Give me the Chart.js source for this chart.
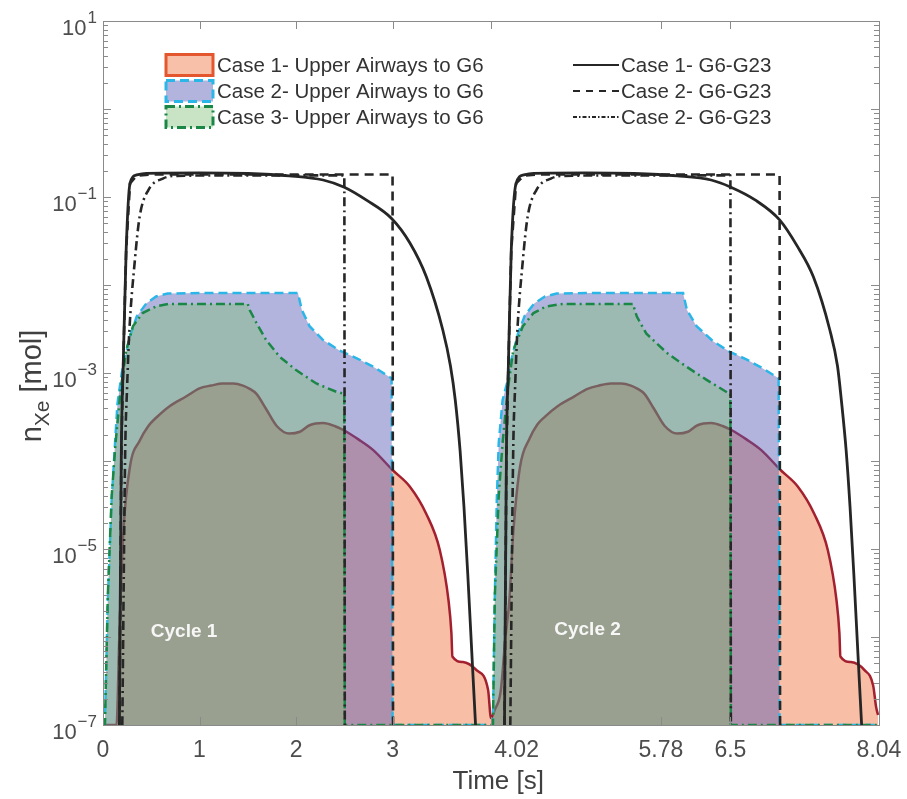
<!DOCTYPE html>
<html>
<head>
<meta charset="utf-8">
<script src="https://cdn.jsdelivr.net/npm/chart.js@4.4.1/dist/chart.umd.min.js"></script>
<style>
html,body{margin:0;padding:0;background:#ffffff;}
canvas{display:block;}
</style>
</head>
<body>
<canvas id="c" width="907" height="799"></canvas>
<script>
// ---------------- data ----------------
const xTickValues = [0, 1, 2, 3, 4.02, 5.78, 6.5, 8.04];
const xTickLabels = ['0', '1', '2', '3', '        4.02', '5.78', '6.5', '8.04'];
const yTickValues = [1e-7, 1e-5, 1e-3, 1e-1, 10];
const yTickBase = '10';
const yTickExponents = ['\u22127', '\u22125', '\u22123', '\u22121', '1'];

const seriesLabels = [
  'Case 1- Upper Airways to G6',
  'Case 2- Upper Airways to G6',
  'Case 3- Upper Airways to G6',
  'Case 1- G6-G23',
  'Case 2- G6-G23',
  'Case 2- G6-G23'
];

// Case 1 - Upper airways to G6 (filled, red)
const case1Time = [0, 0.14, 0.17, 0.21, 0.28, 0.38, 0.47, 0.55, 0.69, 0.86,
  1.0, 1.12, 1.24, 1.35, 1.45, 1.52, 1.59, 1.69, 1.80, 1.93,
  2.04, 2.14, 2.28, 2.40, 2.49, 2.65, 2.80, 3.0, 3.18, 3.35,
  3.49, 3.58, 3.61, 3.62, 3.73, 3.87, 3.99, 4.02,
  4.06, 4.12, 4.17, 4.21, 4.25, 4.32, 4.42, 4.50, 4.58, 4.71,
  4.88, 5.02, 5.14, 5.26, 5.37, 5.47, 5.54, 5.61, 5.71, 5.82,
  5.95, 6.06, 6.16, 6.30, 6.42, 6.51, 6.67, 6.82, 7.02, 7.20,
  7.37, 7.51, 7.60, 7.63, 7.64, 7.75, 7.89, 7.98, 8.01, 8.03];
const case1Value = [1e-7, 1e-7, 1.1e-6, 1.5e-5, 8.7e-5, 1.7e-4, 2.5e-4, 3.1e-4, 4.2e-4, 5.4e-4,
  6.7e-4, 7.2e-4, 7.6e-4, 7.6e-4, 7.2e-4, 6.6e-4, 5.8e-4, 3.9e-4, 2.5e-4, 2.05e-4,
  2.15e-4, 2.55e-4, 2.7e-4, 2.5e-4, 2.25e-4, 1.75e-4, 1.33e-4, 7.9e-5, 5.1e-5, 2.5e-5,
  9.7e-6, 2.6e-6, 1.1e-6, 6.0e-7, 5.2e-7, 4.2e-7, 2.5e-7, 1.2e-7,
  1.5e-7, 2.4e-7, 1.0e-6, 2.6e-6, 1.5e-5, 8.5e-5, 1.8e-4, 2.6e-4, 3.2e-4, 4.2e-4,
  5.4e-4, 6.6e-4, 7.2e-4, 7.6e-4, 7.6e-4, 7.2e-4, 6.6e-4, 5.8e-4, 3.9e-4, 2.5e-4,
  2.05e-4, 2.15e-4, 2.55e-4, 2.7e-4, 2.5e-4, 2.25e-4, 1.75e-4, 1.33e-4, 7.9e-5, 5.1e-5,
  2.5e-5, 9.7e-6, 2.6e-6, 1.1e-6, 6.0e-7, 5.2e-7, 4.2e-7, 2.8e-7, 1.6e-7, 1.3e-7];

// Case 2 - Upper airways to G6 (filled, blue)
const case2Time = [0, 0.02, 0.05, 0.09, 0.12, 0.15, 0.20, 0.28, 0.35, 0.45,
  0.55, 0.67, 1.0, 1.5, 2.02, 2.06, 2.14, 2.28, 2.45, 2.63,
  2.80, 2.99, 3.0, 4.04, 4.06, 4.08, 4.10, 4.14, 4.19, 4.23,
  4.30, 4.37, 4.47, 4.58, 4.70, 5.0, 5.5, 6.01, 6.05, 6.15,
  6.32, 6.49, 6.67, 6.84, 7.0, 7.01, 8.04];
const case2Value = [1e-7, 1e-7, 2.6e-6, 3.6e-5, 1.3e-4, 4.5e-4, 1.1e-3, 2.6e-3, 4.4e-3, 6.2e-3,
  7.4e-3, 8.0e-3, 8.1e-3, 8.1e-3, 8.1e-3, 5.2e-3, 3.4e-3, 2.37e-3, 1.8e-3, 1.47e-3,
  1.18e-3, 8.7e-4, 1e-7, 1e-7, 3e-6, 3.6e-5, 1.6e-4, 4.9e-4, 8e-4, 1.4e-3,
  2.8e-3, 4.5e-3, 6.2e-3, 7.4e-3, 8.0e-3, 8.1e-3, 8.1e-3, 8.1e-3, 5.2e-3, 3.4e-3,
  2.3e-3, 1.75e-3, 1.42e-3, 1.12e-3, 8.7e-4, 1e-7, 1e-7];

// Case 3 - Upper airways to G6 (filled, green)
const case3Time = [0, 0.02, 0.05, 0.09, 0.13, 0.18, 0.24, 0.31, 0.41, 0.55,
  0.68, 1.0, 1.50, 1.52, 1.59, 1.69, 1.83, 2.0, 2.21, 2.42,
  2.50, 2.505, 4.04, 4.06, 4.10, 4.14, 4.19, 4.25, 4.35, 4.46,
  4.59, 4.76, 5.2, 5.49, 5.53, 5.63, 5.84, 6.05, 6.25, 6.48,
  6.5, 6.505, 8.04];
const case3Value = [1e-7, 1e-7, 3e-6, 4e-5, 1.6e-4, 6e-4, 1.8e-3, 3.4e-3, 4.8e-3, 5.7e-3,
  6.1e-3, 6.1e-3, 6.1e-3, 5.2e-3, 3.7e-3, 2.37e-3, 1.53e-3, 1.08e-3, 7.6e-4, 6.1e-4,
  5.8e-4, 1e-7, 1e-7, 3e-6, 4e-5, 1.6e-4, 6e-4, 1.8e-3, 3.4e-3, 4.8e-3,
  5.7e-3, 6.1e-3, 6.1e-3, 6.1e-3, 4.4e-3, 2.8e-3, 1.7e-3, 1.17e-3, 8.4e-4, 5.9e-4,
  5.8e-4, 1e-7, 1e-7];

// Case 1 - G6-G23 (solid black)
const g1Time = [0.17, 0.19, 0.21, 0.24, 0.28, 0.35, 0.45, 1.0, 1.5, 1.93,
  2.28, 2.5, 2.73, 2.99, 3.18, 3.35, 3.52, 3.60, 3.65, 3.70,
  3.74, 3.78, 3.82, 3.86, 4.0, 4.16, 4.18, 4.20, 4.23, 4.28,
  4.36, 4.46, 5.0, 5.5, 5.95, 6.30, 6.50, 6.76, 7.01, 7.19,
  7.36, 7.53, 7.61, 7.65, 7.70, 7.74, 7.78, 7.82, 7.86];
const g1Value = [1e-7, 1.3e-4, 1.3e-3, 0.025, 0.143, 0.178, 0.186, 0.188, 0.185, 0.174,
  0.156, 0.129, 0.092, 0.057, 0.030, 0.0124, 0.0031, 1.2e-3, 4.9e-4, 1.3e-4,
  3e-5, 5e-6, 7e-7, 1e-7, null, 1e-7, 1.3e-4, 1.2e-3, 0.025, 0.143,
  0.178, 0.186, 0.188, 0.185, 0.174, 0.156, 0.130, 0.092, 0.055, 0.028,
  0.0124, 3.1e-3, 1.2e-3, 4.9e-4, 1.3e-4, 3e-5, 5e-6, 7e-7, 1e-7];

// Case 2 - G6-G23 (dashed black)
const g2Time = [0.17, 0.19, 0.21, 0.24, 0.28, 0.35, 0.5, 3.0, 3.005, 4.0,
  4.16, 4.18, 4.20, 4.23, 4.28, 4.36, 4.5, 7.01, 7.015];
const g2Value = [1e-7, 1.3e-4, 1.3e-3, 0.025, 0.143, 0.175, 0.18, 0.18, 1e-7, null,
  1e-7, 1.3e-4, 1.2e-3, 0.025, 0.143, 0.175, 0.18, 0.18, 1e-7];

// third line series (dash-dot black)
const g3Time = [0.20, 0.23, 0.25, 0.27, 0.33, 0.38, 0.47, 0.62, 0.76, 1.5,
  2.5, 2.505, 4.0, 4.22, 4.25, 4.27, 4.29, 4.35, 4.40, 4.49,
  4.64, 4.78, 5.5, 6.5, 6.505];
const g3Value = [1e-7, 1.3e-4, 7e-4, 2.6e-3, 0.019, 0.06, 0.12, 0.162, 0.174, 0.176,
  0.176, 1e-7, null, 1e-7, 1.3e-4, 7e-4, 2.6e-3, 0.019, 0.06, 0.12,
  0.162, 0.174, 0.176, 0.176, 1e-7];

const cycleLabels = ['Cycle 1', 'Cycle 2'];
const cycleLabelTime = [0.84, 5.02];
const cycleLabelValue = [1.15e-6, 1.2e-6];

// ---------------- chart ----------------
const FONT = '"Liberation Sans", Arial, Helvetica, sans-serif';
Chart.defaults.font.family = FONT;

function pts(t, v) { return t.map((tt, i) => ({ x: tt, y: v[i] })); }

const legendStyles = [
  { kind: 'box', fill: 'rgb(248,192,168)', stroke: '#e4572e', dash: [] },
  { kind: 'box', fill: 'rgb(178,180,222)', stroke: '#2bb6e8', dash: [9, 5] },
  { kind: 'box', fill: 'rgb(200,228,196)', stroke: '#1b8746', dash: [9, 4, 2, 4] },
  { kind: 'line', stroke: '#262626', dash: [] },
  { kind: 'line', stroke: '#262626', dash: [7, 6] },
  { kind: 'line', stroke: '#262626', dash: [4, 2, 1.5, 2] }
];

const axisPlugin = {
  id: 'axisBox',
  afterDatasetsDraw(chart) {
    const { ctx, chartArea: a, scales } = chart;
    const x = scales.x, y = scales.y;
    ctx.save();
    // cycle labels
    ctx.fillStyle = '#f7f7f7';
    ctx.font = 'bold 19px ' + FONT;
    ctx.textAlign = 'center';
    ctx.textBaseline = 'middle';
    cycleLabels.forEach((s, i) => {
      ctx.fillText(s, x.getPixelForValue(cycleLabelTime[i]), y.getPixelForValue(cycleLabelValue[i]));
    });
    // box + inward ticks
    ctx.strokeStyle = '#8a8a8a';
    ctx.lineWidth = 1;
    ctx.beginPath();
    xTickValues.forEach(v => {
      const px = Math.round(x.getPixelForValue(v)) + 0.5;
      ctx.moveTo(px, a.bottom); ctx.lineTo(px, a.bottom - 8);
      ctx.moveTo(px, a.top); ctx.lineTo(px, a.top + 8);
    });
    for (let e = -7; e <= 1; e++) {
      for (let m = 1; m <= 9; m++) {
        if (e === 1 && m > 1) break;
        const py = Math.round(y.getPixelForValue(m * Math.pow(10, e))) + 0.5;
        const len = m === 1 ? 8 : 5;
        ctx.moveTo(a.left, py); ctx.lineTo(a.left + len, py);
        ctx.moveTo(a.right, py); ctx.lineTo(a.right - len, py);
      }
    }
    ctx.stroke();
    ctx.strokeRect(Math.round(a.left) + 0.5, Math.round(a.top) + 0.5,
      Math.round(a.right - a.left), Math.round(a.bottom - a.top));
    ctx.restore();
  },
  afterDraw(chart) {
    const { ctx, chartArea: a, scales } = chart;
    const y = scales.y;
    // y tick labels: base with superscript exponent
    ctx.save();
    ctx.fillStyle = '#4d4d4d';
    ctx.textAlign = 'left';
    ctx.textBaseline = 'alphabetic';
    const baseF = '22px ' + FONT, supF = '17px ' + FONT;
    yTickValues.forEach((v, i) => {
      const py = y.getPixelForValue(v);
      ctx.font = supF; const we = ctx.measureText(yTickExponents[i]).width;
      ctx.font = baseF; const wb = ctx.measureText(yTickBase).width;
      const right = a.left - 6;
      ctx.font = baseF; ctx.fillText(yTickBase, right - we - 1 - wb, py + 14);
      ctx.font = supF; ctx.fillText(yTickExponents[i], right - we, py + 2);
    });
    ctx.restore();

    // y-axis title with subscript
    ctx.save();
    ctx.fillStyle = '#404040';
    ctx.translate(36, 386);
    ctx.rotate(-Math.PI / 2);
    const mainF = '29px ' + FONT, subF = '21px ' + FONT;
    ctx.font = mainF; const wn = ctx.measureText('n').width; const wm = ctx.measureText(' [mol]').width;
    ctx.font = subF; const wx = ctx.measureText('Xe').width;
    const sx = -(wn + wx + wm) / 2;
    ctx.textBaseline = 'middle'; ctx.textAlign = 'left';
    ctx.font = mainF; ctx.fillText('n', sx, -3);
    ctx.font = subF; ctx.fillText('Xe', sx + wn, 7);
    ctx.font = mainF; ctx.fillText(' [mol]', sx + wn + wx, -3);
    ctx.restore();

    // legend
    ctx.save();
    ctx.font = '20.5px ' + FONT;
    ctx.textBaseline = 'middle';
    ctx.textAlign = 'left';
    const rows = [65, 91, 117];
    chart.data.datasets.forEach((ds, i) => {
      const st = legendStyles[i];
      const col = i < 3 ? 0 : 1;
      const cy = rows[i % 3];
      if (st.kind === 'box') {
        ctx.fillStyle = st.fill;
        ctx.fillRect(166, cy - 10.5, 47, 21);
        ctx.strokeStyle = st.stroke; ctx.lineWidth = 3; ctx.setLineDash(st.dash);
        ctx.strokeRect(166, cy - 10.5, 47, 21);
      } else {
        ctx.strokeStyle = st.stroke; ctx.lineWidth = 2.2; ctx.setLineDash(st.dash);
        ctx.beginPath(); ctx.moveTo(573, cy); ctx.lineTo(619, cy); ctx.stroke();
      }
      ctx.setLineDash([]);
      ctx.fillStyle = '#333333';
      ctx.fillText(ds.label, col === 0 ? 217 : 621, cy + 1);
    });
    ctx.restore();
  }
};

new Chart(document.getElementById('c'), {
  type: 'line',
  data: {
    datasets: [
      { label: seriesLabels[0], data: pts(case1Time, case1Value), order: 5, cubicInterpolationMode: 'monotone',
        borderColor: '#a3202f', borderWidth: 2.5, backgroundColor: 'rgba(241,125,77,0.5)', fill: 'start' },
      { label: seriesLabels[1], data: pts(case2Time, case2Value), order: 4,
        borderColor: '#2bb6e8', borderWidth: 2.5, borderDash: [9, 5], backgroundColor: 'rgba(84,88,182,0.45)', fill: 'start' },
      { label: seriesLabels[2], data: pts(case3Time, case3Value), order: 3,
        borderColor: '#1b8746', borderWidth: 2.5, borderDash: [9, 4, 2, 4], backgroundColor: 'rgba(100,202,63,0.27)', fill: 'start' },
      { label: seriesLabels[3], data: pts(g1Time, g1Value), order: 2, cubicInterpolationMode: 'monotone',
        borderColor: '#262626', borderWidth: 2.8, fill: false },
      { label: seriesLabels[4], data: pts(g2Time, g2Value), order: 1,
        borderColor: '#262626', borderWidth: 2.6, borderDash: [9, 6], fill: false },
      { label: seriesLabels[5], data: pts(g3Time, g3Value), order: 0, cubicInterpolationMode: 'monotone',
        borderColor: '#262626', borderWidth: 2.6, borderDash: [9, 4, 2, 4], fill: false }
    ]
  },
  options: {
    responsive: false,
    animation: false,
    devicePixelRatio: 1,
    spanGaps: false,
    elements: { point: { radius: 0, hoverRadius: 0 }, line: { tension: 0 } },
    layout: { padding: { left: 0, right: 28, top: 21, bottom: 0 } },
    plugins: { legend: { display: false }, tooltip: { enabled: false } },
    scales: {
      x: {
        type: 'linear', min: 0, max: 8.04,
        grid: { display: false, drawTicks: false },
        border: { display: false },
        afterBuildTicks: s => { s.ticks = xTickValues.map(v => ({ value: v })); },
        afterFit: s => { s.height = 74; s.paddingLeft = 0; s.paddingRight = 0; },
        ticks: {
          autoSkip: false, maxRotation: 0, padding: 12,
          color: '#4d4d4d', font: { size: 23 },
          callback: (v, i) => xTickLabels[i]
        },
        title: { display: true, text: '  Time [s]', color: '#404040', font: { size: 26 }, padding: { top: 0, bottom: 2 } }
      },
      y: {
        type: 'logarithmic', min: 1e-7, max: 10,
        grid: { display: false, drawTicks: false },
        border: { display: false },
        afterBuildTicks: s => { s.ticks = yTickValues.map(v => ({ value: v })); },
        afterFit: s => { s.width = 103; s.paddingTop = 0; s.paddingBottom = 0; },
        ticks: { display: false }
      }
    }
  },
  plugins: [axisPlugin]
});
</script>
</body>
</html>
